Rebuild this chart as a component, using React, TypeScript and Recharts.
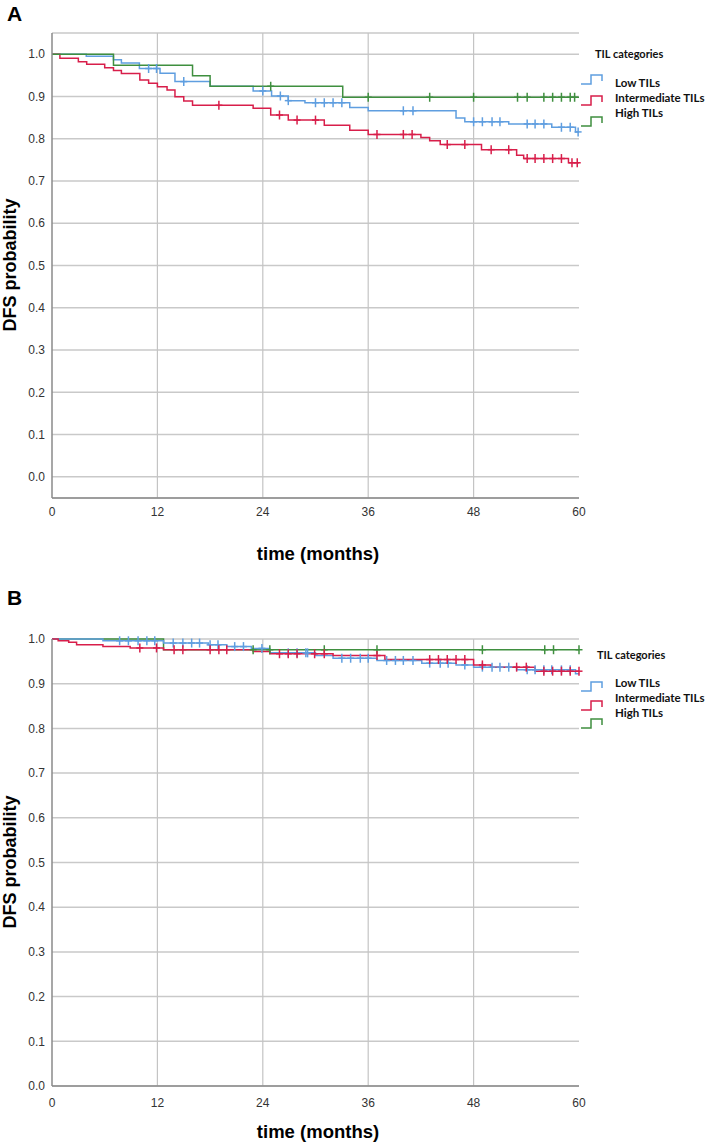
import React from 'react';
import {
  ComposedChart,
  Line,
  Scatter,
  XAxis,
  YAxis,
  CartesianGrid,
  ReferenceLine,
} from 'recharts';

// colours for the three TIL groups
const BLUE = '#5f9ee0';
const RED = '#d81e4a';
const GREEN = '#3f8f3f';

const xTicks = [0, 12, 24, 36, 48, 60];
const xGrid = [12, 24, 36, 48];
const yTicks = [0, 0.1, 0.2, 0.3, 0.4, 0.5, 0.6, 0.7, 0.8, 0.9, 1.0];
const legendLabels = ['Low TILs', 'Intermediate TILs', 'High TILs'];

// Panel A - step times (months) and survival after each step
const lowA_t = [0, 3.9, 7.0, 7.9, 9.95, 12.3, 14.0, 18.0, 22.9, 25.0, 26.9, 28.8, 33.9, 36.0, 46.0, 47.0, 52.0, 56.9, 59.6, 60];
const lowA_s = [1.0, 0.995, 0.987, 0.979, 0.966, 0.955, 0.935, 0.924, 0.913, 0.901, 0.89, 0.885, 0.874, 0.866, 0.849, 0.84, 0.835, 0.827, 0.816, 0.816];
const lowA_cens = [11.0, 11.9, 15.0, 24.0, 26.0, 26.9, 30.0, 31.0, 32.0, 33.0, 40.0, 41.1, 48.0, 49.0, 50.1, 51.0, 54.1, 55.0, 56.0, 58.0, 59.0, 59.9];

const intA_t = [0, 0.9, 3.0, 3.95, 6.0, 7.0, 7.9, 10.0, 11.0, 12.0, 13.1, 14.0, 15.0, 16.0, 22.9, 24.9, 26.9, 31.0, 33.9, 36.0, 42.0, 43.0, 44.2, 48.9, 52.9, 53.7, 58.8, 60];
const intA_s = [1.0, 0.99, 0.982, 0.976, 0.968, 0.961, 0.954, 0.939, 0.931, 0.923, 0.915, 0.899, 0.889, 0.879, 0.872, 0.856, 0.844, 0.832, 0.82, 0.81, 0.803, 0.795, 0.786, 0.774, 0.761, 0.753, 0.743, 0.743];
const intA_cens = [19.0, 25.9, 27.9, 30.0, 37.0, 40.0, 41.0, 45.0, 47.0, 50.0, 52.0, 54.1, 55.0, 56.0, 57.0, 58.0, 59.2, 59.8];

const highA_t = [0, 7.0, 16.0, 18.0, 33.1, 60];
const highA_s = [1.0, 0.974, 0.949, 0.924, 0.898, 0.898];
const highA_cens = [24.9, 36.0, 43.0, 48.0, 53.0, 54.1, 56.0, 57.0, 58.0, 59.0, 59.5];

// Panel B
const lowB_t = [0, 5.8, 12.7, 17.8, 19.9, 22.7, 24.8, 30.0, 32.0, 37.0, 42.1, 46.0, 48.0, 52.9, 59.6, 60];
const lowB_s = [1.0, 0.996, 0.991, 0.987, 0.983, 0.979, 0.969, 0.963, 0.957, 0.952, 0.946, 0.942, 0.937, 0.931, 0.922, 0.922];
const lowB_cens = [7.7, 8.7, 9.8, 10.8, 11.7, 13.8, 14.9, 15.9, 16.8, 18.0, 18.9, 20.8, 21.8, 23.9, 26.9, 27.9, 28.9, 29.1, 33.0, 34.0, 35.1, 36.0, 38.1, 39.1, 40.0, 41.1, 43.0, 44.2, 45.1, 47.0, 49.0, 50.1, 51.0, 52.0, 54.1, 55.0, 56.0, 56.9, 58.0, 59.0];

const intB_t = [0, 0.7, 1.9, 2.8, 5.8, 8.9, 12.7, 22.9, 24.8, 32.0, 37.9, 48.0, 50.0, 55.0, 60];
const intB_s = [1.0, 0.996, 0.993, 0.987, 0.983, 0.98, 0.976, 0.972, 0.967, 0.963, 0.954, 0.942, 0.937, 0.928, 0.928];
const intB_cens = [10.0, 11.9, 13.9, 14.9, 18.0, 19.0, 19.9, 25.9, 26.9, 27.9, 29.9, 31.0, 37.0, 43.0, 44.0, 45.0, 46.0, 47.0, 49.0, 52.9, 54.0, 56.0, 57.0, 58.0, 59.0, 60.0];

const highB_t = [0, 12.7, 60];
const highB_s = [1.0, 0.976, 0.976];
const highB_cens = [22.9, 24.8, 31.0, 37.0, 49.0, 56.1, 57.1, 60.0];

const steps = (t: number[], s: number[]) => t.map((v, i) => ({ t: v, s: s[i] }));

// censor marks sit on the curve at the given time
const censors = (t: number[], s: number[], times: number[]) =>
  times.map((c) => {
    let val = s[0];
    t.forEach((v, i) => {
      if (v <= c) val = s[i];
    });
    return { t: c, s: val };
  });

const plus = (color: string) => (props: any) => {
  const { cx, cy } = props;
  if (cx == null || cy == null) return <g />;
  return (
    <g stroke={color} strokeWidth={1.5}>
      <line x1={cx} y1={cy - 4.5} x2={cx} y2={cy + 4.5} />
      <line x1={cx - 3.5} y1={cy} x2={cx + 3.5} y2={cy} />
    </g>
  );
};

const tickFont = {
  fontSize: 12,
  fill: '#333',
  fontFamily: "'Liberation Sans Narrow', 'Arial Narrow', 'Liberation Sans', Arial, sans-serif",
};

interface Series {
  t: number[];
  s: number[];
  cens: number[];
  color: string;
}

interface PanelProps {
  top: number;
  height: number;
  marginTop: number;
  marginBottom: number;
  yDomain: [number, number];
  xTickMargin: number;
  series: Series[];
}

function Panel({ top, height, marginTop, marginBottom, yDomain, xTickMargin, series }: PanelProps) {
  return (
    <div style={{ position: 'absolute', left: 0, top }}>
      <ComposedChart
        width={709}
        height={height}
        margin={{ top: marginTop, right: 130, bottom: marginBottom, left: 12 }}
      >
        <CartesianGrid vertical={false} stroke="#c9c9c9" strokeWidth={1.5} />
        {xGrid.map((x) => (
          <ReferenceLine key={x} x={x} stroke="#c4c4c4" strokeWidth={1.2} />
        ))}
        <XAxis
          type="number"
          dataKey="t"
          domain={[0, 60]}
          ticks={xTicks}
          tickLine={false}
          tickMargin={xTickMargin}
          height={30}
          axisLine={{ stroke: '#8a8a8a', strokeWidth: 1.5 }}
          tick={tickFont}
          allowDuplicatedCategory={false}
        />
        <YAxis
          type="number"
          domain={yDomain}
          ticks={yTicks}
          tickLine={false}
          tickMargin={1}
          width={40}
          axisLine={{ stroke: '#8a8a8a', strokeWidth: 1.5 }}
          tick={tickFont}
          tickFormatter={(v: number) => v.toFixed(1)}
        />
        {series.map((sr, i) => (
          <Line
            key={'l' + i}
            data={steps(sr.t, sr.s)}
            dataKey="s"
            type="stepAfter"
            stroke={sr.color}
            strokeWidth={1.5}
            dot={false}
            isAnimationActive={false}
          />
        ))}
        {series.map((sr, i) => (
          <Scatter
            key={'c' + i}
            data={censors(sr.t, sr.s, sr.cens)}
            dataKey="s"
            shape={plus(sr.color)}
            isAnimationActive={false}
          />
        ))}
      </ComposedChart>
    </div>
  );
}

const LegendIcon = ({ color }: { color: string }) => (
  <svg width={24} height={11} style={{ display: 'block' }}>
    <path d="M1,10 H11 V1 H22 V7" fill="none" stroke={color} strokeWidth={1.5} />
  </svg>
);

interface LegendProps {
  titleX: number;
  titleY: number;
  textYs: number[];
  iconYs: number[];
}

const legendFont = "Lato, 'Open Sans', sans-serif";
const legendColors = [BLUE, RED, GREEN];

function TilLegend({ titleX, titleY, textYs, iconYs }: LegendProps) {
  return (
    <>
      <div
        style={{
          position: 'absolute',
          left: titleX,
          top: titleY - 8,
          fontFamily: legendFont,
          fontWeight: 700,
          fontSize: 11,
          lineHeight: '16px',
          color: '#111',
          whiteSpace: 'nowrap',
        }}
      >
        TIL categories
      </div>
      {legendLabels.map((lab, i) => (
        <React.Fragment key={lab}>
          <div style={{ position: 'absolute', left: 580, top: iconYs[i] - 5.5 }}>
            <LegendIcon color={legendColors[i]} />
          </div>
          <div
            style={{
              position: 'absolute',
              left: 615,
              top: textYs[i] - 8,
              fontFamily: legendFont,
              fontWeight: 700,
              fontSize: 11.5,
              lineHeight: '16px',
              color: '#111',
              whiteSpace: 'nowrap',
            }}
          >
            {lab}
          </div>
        </React.Fragment>
      ))}
    </>
  );
}

const titleFont = "'Liberation Sans', Arial, sans-serif";

const PanelLetter = ({ y, text }: { y: number; text: string }) => (
  <div
    style={{
      position: 'absolute',
      left: 7,
      top: y,
      fontFamily: titleFont,
      fontWeight: 700,
      fontSize: 21,
      lineHeight: '24px',
      color: '#000',
    }}
  >
    {text}
  </div>
);

const YTitle = ({ cy }: { cy: number }) => (
  <div
    style={{
      position: 'absolute',
      left: 10,
      top: cy,
      transform: 'translate(-50%, -50%) rotate(-90deg)',
      fontFamily: titleFont,
      fontWeight: 700,
      fontSize: 18,
      lineHeight: '20px',
      whiteSpace: 'nowrap',
      color: '#000',
    }}
  >
    DFS probability
  </div>
);

const XTitle = ({ cy }: { cy: number }) => (
  <div
    style={{
      position: 'absolute',
      left: 318,
      top: cy,
      transform: 'translate(-50%, -50%)',
      fontFamily: titleFont,
      fontWeight: 700,
      fontSize: 18.5,
      lineHeight: '22px',
      whiteSpace: 'nowrap',
      color: '#000',
    }}
  >
    time (months)
  </div>
);

export default function App() {
  const seriesA: Series[] = [
    { t: lowA_t, s: lowA_s, cens: lowA_cens, color: BLUE },
    { t: intA_t, s: intA_s, cens: intA_cens, color: RED },
    { t: highA_t, s: highA_s, cens: highA_cens, color: GREEN },
  ];
  const seriesB: Series[] = [
    { t: highB_t, s: highB_s, cens: highB_cens, color: GREEN },
    { t: lowB_t, s: lowB_s, cens: lowB_cens, color: BLUE },
    { t: intB_t, s: intB_s, cens: intB_cens, color: RED },
  ];

  return (
    <div
      style={{
        position: 'absolute',
        left: 0,
        top: 0,
        width: 709,
        height: 1147,
        background: '#fff',
        overflow: 'hidden',
      }}
    >
      <Panel
        top={0}
        height={560}
        marginTop={33}
        marginBottom={32}
        yDomain={[-0.05, 1.05]}
        xTickMargin={3}
        series={seriesA}
      />
      <Panel
        top={580}
        height={540}
        marginTop={59}
        marginBottom={4}
        yDomain={[0, 1]}
        xTickMargin={6}
        series={seriesB}
      />
      <PanelLetter y={2} text="A" />
      <PanelLetter y={586} text="B" />
      <YTitle cy={265} />
      <YTitle cy={862} />
      <XTitle cy={554} />
      <XTitle cy={1132} />
      <TilLegend titleX={595} titleY={54} textYs={[83, 98, 113]} iconYs={[79, 100, 121]} />
      <TilLegend titleX={597} titleY={655} textYs={[683, 698, 713]} iconYs={[686, 705, 723]} />
    </div>
  );
}
